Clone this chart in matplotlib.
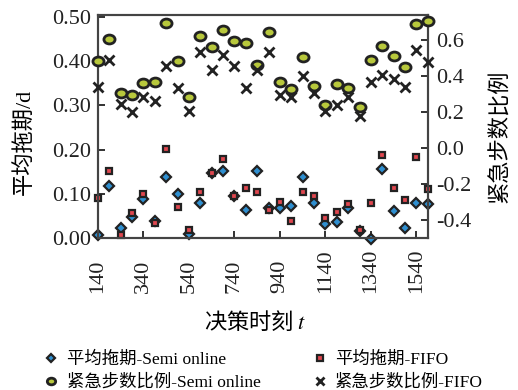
import matplotlib
matplotlib.use('Agg')
from matplotlib import pyplot as plt
from matplotlib.path import Path
import numpy as np

plt.rcParams['font.family'] = ['Liberation Serif', 'Noto Sans CJK SC', 'DejaVu Sans']
plt.rcParams['mathtext.fontset'] = 'stix'
plt.rcParams['axes.unicode_minus'] = False

# decision times
t = np.arange(140, 1600, 50)

# average tardiness (left axis)
delay_semi = [0.006, 0.117, 0.023, 0.047, 0.089, 0.039, 0.137, 0.099, 0.008, 0.080,
              0.148, 0.152, 0.094, 0.064, 0.152, 0.068, 0.068, 0.073, 0.139, 0.080,
              0.032, 0.036, 0.068, 0.015, -0.002, 0.155, 0.060, 0.023, 0.079, 0.076]
delay_fifo = [0.091, 0.152, 0.007, 0.056, 0.099, 0.033, 0.201, 0.069, 0.017, 0.103,
              0.146, 0.178, 0.096, 0.112, 0.103, 0.064, 0.081, 0.039, 0.105, 0.096,
              0.046, 0.058, 0.076, 0.018, 0.080, 0.188, 0.114, 0.085, 0.183, 0.110]

# urgent step ratio (right axis)
ratio_semi = [0.482, 0.607, 0.306, 0.296, 0.359, 0.367, 0.694, 0.482, 0.282, 0.622,
              0.561, 0.654, 0.596, 0.582, 0.463, 0.648, 0.365, 0.329, 0.507, 0.346,
              0.241, 0.356, 0.333, 0.229, 0.491, 0.568, 0.511, 0.452, 0.691, 0.709]
ratio_fifo = [0.339, 0.491, 0.246, 0.202, 0.283, 0.259, 0.456, 0.333, 0.204, 0.532,
              0.435, 0.518, 0.459, 0.333, 0.435, 0.532, 0.293, 0.282, 0.402, 0.306,
              0.204, 0.237, 0.282, 0.176, 0.367, 0.407, 0.385, 0.341, 0.546, 0.478]

xticks = np.arange(140, 1541, 200)

# slightly flattened circle, the reference markers look stretched sideways
circ = Path.unit_circle()
oval = Path(circ.vertices * [1.0, 0.8], circ.codes)

fig = plt.figure(figsize=(5.18, 3.9), dpi=100)
ax = fig.add_axes([0.189, 0.39, 0.637, 0.5715])
ax2 = ax.twinx()

edge = '#222222'
h1, = ax.plot(t, delay_semi, ls='none', marker='D', ms=5.5, mfc='#2f8fd0', mec=edge,
              mew=1.6, clip_on=False, zorder=3, label='平均拖期-Semi online')
h2, = ax.plot(t, delay_fifo, ls='none', marker='s', ms=5, mfc='#e0474f', mec=edge,
              mew=1.6, clip_on=False, zorder=3, label='平均拖期-FIFO')
h3, = ax2.plot(t, ratio_semi, ls='none', marker=oval, ms=8, mfc='#b8c83c', mec=edge,
               mew=2.0, clip_on=False, zorder=3, label='紧急步数比例-Semi online')
h4, = ax2.plot(t, ratio_fifo, ls='none', marker='x', ms=7, color=edge,
               mew=2, clip_on=False, zorder=3, label='紧急步数比例-FIFO')

ax.set_xlim(140, 1590)
ax.set_ylim(0, 0.505)
ax2.set_ylim(-0.5, 0.74)

ax.set_xticks(xticks)
ax.set_xticklabels([str(v) for v in xticks], rotation=90, va='bottom')
ax.set_yticks(np.arange(0, 0.51, 0.1))
ax.set_yticklabels(['%.2f' % v for v in np.arange(0, 0.51, 0.1)])
ax2.set_yticks([-0.4, -0.2, 0.0, 0.2, 0.4, 0.6])
ax2.set_yticklabels(['-0.4', '-0.2', '0.0', '0.2', '0.4', '0.6'])

for a in (ax, ax2):
    a.tick_params(direction='in', labelsize=16, length=5, width=1.3, colors='#222222')
    for s in a.spines.values():
        s.set_color('#444444')
        s.set_linewidth(1.5)
ax.tick_params(axis='x', pad=39.5)
ax.tick_params(axis='y', pad=5)
ax2.tick_params(axis='y', pad=6)

ax.set_xlabel('决策时刻 $t$', fontsize=16, family='Noto Sans CJK SC')
ax.xaxis.set_label_coords(0.476, -0.323)
ax.set_ylabel('平均拖期/d', fontsize=16)
ax.yaxis.set_label_coords(-0.19, 0.43)
ax2.set_ylabel('紧急步数比例', fontsize=16)
ax2.yaxis.set_label_coords(1.188, 0.457)

fig.legend(handles=[h1, h3, h2, h4], ncol=2, frameon=False, fontsize=12.5,
           loc='upper left', bbox_to_anchor=(0.065, 0.12), handlelength=1,
           markerscale=0.75, handletextpad=0.4, columnspacing=2.9,
           labelspacing=0.35, borderpad=0)

fig.savefig('out.png', dpi=100)
